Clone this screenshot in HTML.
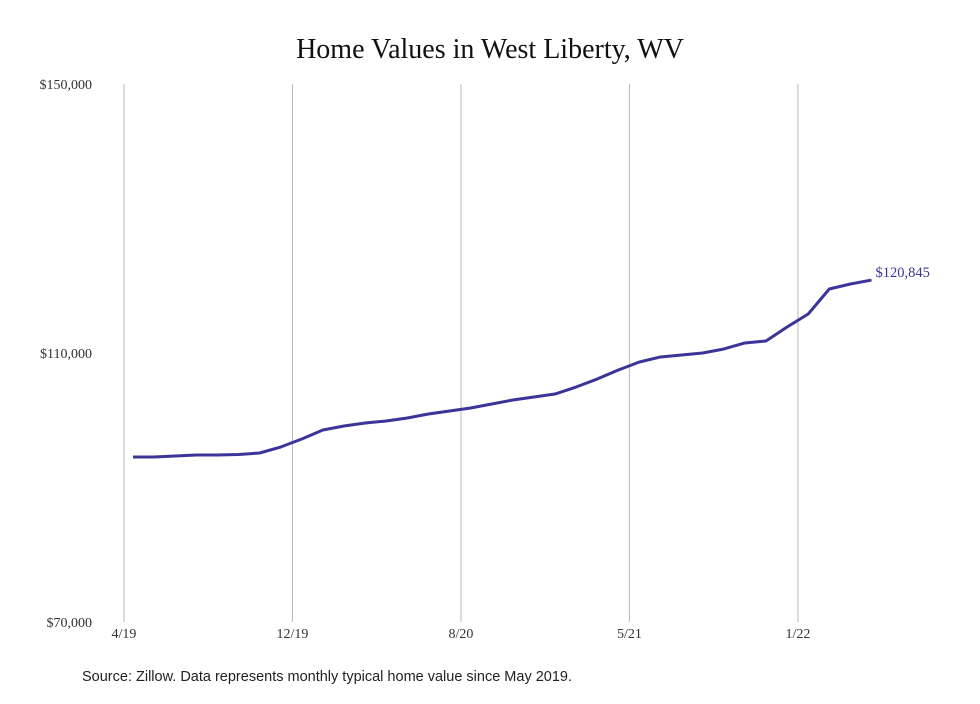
<!DOCTYPE html>
<html><head><meta charset="utf-8"><style>
body{margin:0;background:#fff;width:980px;height:699px;overflow:hidden}
svg text{font-family:"Liberation Serif",serif}
</style></head><body>
<svg width="980" height="699">
<text x="490" y="58" text-anchor="middle" font-size="28" fill="#111">Home Values in West Liberty, WV</text>
<g id="grid"></g><g id="yticks"></g><g id="xticks"></g>
<path id="line" fill="none" stroke="#3b3499" stroke-width="3" stroke-linejoin="round"/>
<text id="endlabel" font-size="14.5" fill="#3b3499"></text>
<text x="82" y="681" font-size="14.5" fill="#222" style="font-family:'Liberation Sans',sans-serif">Source: Zillow. Data represents monthly typical home value since May 2019.</text>
</svg>
<script>
const values=[94535,94535,94680,94830,94830,94900,95130,96020,97210,98550,99150,99590,99890,100330,100930,101380,101820,102420,103010,103460,103900,104940,106130,107470,108660,109410,109700,110000,110600,111490,111790,113870,115800,119520,120260,120845];
const xLabels=["4/19","12/19","8/20","5/21","1/22"];
const xLabelMonths=[0,8,16,24,32];
const yTicks=[70000,110000,150000];
const yTickLabels=["$70,000","$110,000","$150,000"];
const lastLabel="$120,845";
const ns="http://www.w3.org/2000/svg";
function X(i){return 133+i*21.1;}
function Y(v){return 622-(v-70000)/80000*538;}
function el(t,a,p){const e=document.createElementNS(ns,t);for(const k in a)e.setAttribute(k,a[k]);document.getElementById(p).appendChild(e);return e;}
xLabels.forEach((l,i)=>{const x=124+xLabelMonths[i]*21.06;
const g=el("line",{x1:x,x2:x,y1:84,y2:622,stroke:"#bbb","stroke-width":1},"grid");


const t=el("text",{x:x,y:638,"text-anchor":"middle","font-size":14,fill:"#333"},"xticks");t.textContent=l;

});
yTicks.forEach((v,i)=>{const t=el("text",{x:92,y:Y(v)+5,"text-anchor":"end","font-size":14,fill:"#333"},"yticks");t.textContent=yTickLabels[i];

});
document.getElementById("line").setAttribute("d",values.map((v,i)=>(i?"L":"M")+X(i)+","+Y(v)).join(""));
const n=values.length-1,lab=document.getElementById("endlabel");
lab.setAttribute("x",X(n)+4);lab.setAttribute("y",Y(values[n])-3);lab.textContent=lastLabel;
</script>
</body></html>
